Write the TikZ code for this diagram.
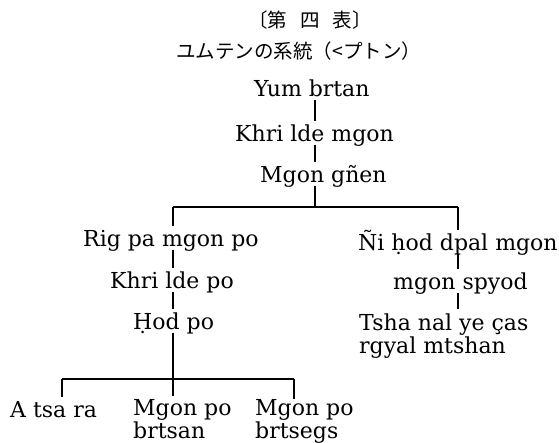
\documentclass[tikz,border=0pt]{standalone}
\usepackage{fontspec}
\setmainfont{DejaVu Serif}
\newfontfamily\jpfont{Noto Sans CJK JP}
\begin{document}
\begin{tikzpicture}[x=1pt,y=-1pt,
  nm/.style={inner sep=0pt, anchor=base west, font=\fontsize{22}{21}\selectfont, text height=20pt, text depth=4pt},
  nm2/.style={inner sep=0pt, anchor=base west, font=\fontsize{22}{21}\selectfont, align=left},
  jp/.style={inner sep=0pt, font=\jpfont\fontsize{19.5}{22}\selectfont},
  ln/.style={line width=1.1pt}]
\useasboundingbox[fill=white] (0,0) rectangle (559,442);
\node[jp, anchor=base] (t1) at (310,27) {〔第\hspace{13pt}四\hspace{13pt}表〕};
\node[jp, anchor=base west] (t2) at (176,58) {ユムテンの系統（<プトン）};
\node[nm] (yum) at (254,96) {Yum brtan};
\node[nm] (khri) at (235,141) {Khri lde mgon};
\node[nm] (gnen) at (260,182) {Mgon gñen};
\node[nm] (rig) at (83,246) {Rig pa mgon po};
\node[nm] (khrip) at (110,288) {Khri lde po};
\node[nm] (hod) at (133,329) {Ḥod po};
\node[nm] (atsa) at (10,417) {A tsa ra};
\node[nm2] (brtsan) at (133,438) {Mgon po\\brtsan};
\node[nm2] (brtsegs) at (255,438) {Mgon po\\brtsegs};
\node[nm] (nihod) at (358,250) {Ñi ḥod dpal mgon};
\node[nm] (spyod) at (393,289) {mgon spyod};
\node[nm2] (tsha) at (359,353) {Tsha nal ye ças\\rgyal mtshan};
% junction coordinates
\coordinate (xT) at (315,0);
\coordinate (xL) at (173,0);
\coordinate (xR) at (458,0);
\coordinate (j1) at (315,207);
\coordinate (bL) at (173,207);
\coordinate (bR) at (458,207);
\coordinate (j2) at (173,379);
\coordinate (cA) at (62,379);
\coordinate (cC) at (294,379);
% connectors
\draw[ln] (yum.south -| xT) -- (khri.north -| xT);
\draw[ln] (khri.south -| xT) -- (gnen.north -| xT);
\draw[ln] (gnen.south -| xT) -- (j1);
\draw[ln] (bL) -- (bR);
\draw[ln] (bL) -- (rig.north -| bL);
\draw[ln] (bR) -- (nihod.north -| bR);
\draw[ln] (rig.south -| xL) -- (khrip.north -| xL);
\draw[ln] (khrip.south -| xL) -- (hod.north -| xL);
\draw[ln] (hod.south -| xL) -- (j2);
\draw[ln] (cA) -- (cC);
\draw[ln] (cA) -- (atsa.north -| cA);
\draw[ln] (j2) -- ([yshift=3pt]brtsan.north -| j2);
\draw[ln] (cC) -- (brtsegs.north -| cC);
\draw[ln] (nihod.south -| xR) -- (spyod.north -| xR);
\draw[ln] (spyod.south -| xR) -- ([yshift=4pt]tsha.north -| xR);
\end{tikzpicture}
\end{document}
